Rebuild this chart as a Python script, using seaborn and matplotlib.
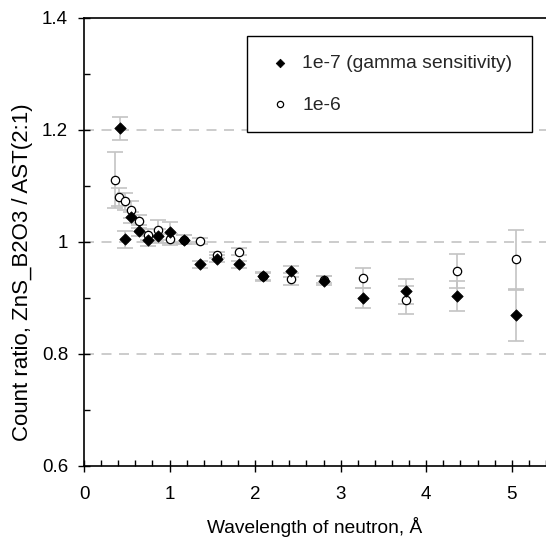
import matplotlib
matplotlib.use("Agg")
import matplotlib.pyplot as plt
import seaborn as sns
import pandas as pd
from matplotlib.ticker import MultipleLocator

# ---- data ----
wl_gamma = [0.42, 0.48, 0.55, 0.64, 0.75, 0.87, 1.00, 1.17, 1.35, 1.56, 1.81,
            2.09, 2.42, 2.80, 3.26, 3.76, 4.36, 5.05]
ratio_gamma = [1.203, 1.005, 1.044, 1.020, 1.003, 1.011, 1.017, 1.004, 0.960,
               0.970, 0.960, 0.939, 0.948, 0.931, 0.900, 0.912, 0.904, 0.869]
err_gamma = [0.020, 0.015, 0.010, 0.010, 0.010, 0.012, 0.018, 0.008, 0.006,
             0.006, 0.006, 0.008, 0.010, 0.008, 0.017, 0.022, 0.027, 0.045]

wl_1e6 = [0.36, 0.41, 0.48, 0.55, 0.64, 0.75, 0.87, 1.00, 1.17, 1.35, 1.56,
          1.81, 2.09, 2.42, 2.80, 3.26, 3.76, 4.36, 5.05]
ratio_1e6 = [1.110, 1.081, 1.073, 1.058, 1.037, 1.013, 1.021, 1.005, 1.004,
             1.002, 0.977, 0.983, 0.939, 0.934, 0.933, 0.935, 0.897, 0.948, 0.969]
err_1e6 = [0.050, 0.016, 0.015, 0.015, 0.012, 0.010, 0.018, 0.010, 0.008,
           0.006, 0.006, 0.006, 0.006, 0.010, 0.006, 0.018, 0.025, 0.031, 0.053]

label_gamma = "1e-7 (gamma sensitivity)"
label_1e6 = "1e-6"
xlabel = "Wavelength of neutron, Å"
ylabel = "Count ratio, ZnS_B2O3 / AST(2:1)"

df_g = pd.DataFrame({"wl": wl_gamma, "ratio": ratio_gamma, "err": err_gamma})
df_c = pd.DataFrame({"wl": wl_1e6, "ratio": ratio_1e6, "err": err_1e6})

sns.set_theme(style="white")
plt.rcParams["font.family"] = ["Liberation Sans", "DejaVu Sans"]

fig = plt.figure(figsize=(5.46, 5.41), dpi=100)
ax = fig.add_axes([84 / 546, 1 - 466 / 541, 1 - 84 / 546, (466 - 18) / 541])

# gridlines
for yv in [0.8, 1.0, 1.2]:
    ax.axhline(yv, color="#c4c4c4", lw=1.2, dashes=(6, 4.5), zorder=0)

# error bars
err_kw = dict(fmt="none", ecolor="#c4c4c4", elinewidth=1.2, capsize=6, capthick=1.2, zorder=1)
ax.errorbar(df_c["wl"], df_c["ratio"], yerr=df_c["err"], **err_kw)
ax.errorbar(df_g["wl"], df_g["ratio"], yerr=df_g["err"], **err_kw)

# markers
sns.scatterplot(data=df_c, x="wl", y="ratio", ax=ax, marker="o", s=36,
                facecolor="white", edgecolor="black", linewidth=0.9,
                label=label_1e6, zorder=3)
sns.scatterplot(data=df_g, x="wl", y="ratio", ax=ax, marker="D", s=34,
                color="black", edgecolor="black", linewidth=0.5,
                label=label_gamma, zorder=4)

ax.set_xlim(0, 5.4)
ax.set_ylim(0.6, 1.4)
ax.xaxis.set_major_locator(MultipleLocator(1))
ax.xaxis.set_minor_locator(MultipleLocator(0.2))
ax.yaxis.set_minor_locator(MultipleLocator(0.1))
ax.set_yticks([0.6, 0.8, 1.0, 1.2, 1.4])
ax.set_yticklabels(["0.6", "0.8", "1", "1.2", "1.4"])

ax.tick_params(axis="both", which="major", direction="inout", length=9, width=1,
               color="black", labelsize=13.5, labelcolor="black")
ax.tick_params(axis="x", which="major", pad=10)
ax.tick_params(axis="y", which="major", pad=7)
ax.tick_params(axis="both", which="minor", direction="in", length=4, width=1, color="black")
ax.tick_params(axis="x", which="both", bottom=True)
ax.tick_params(axis="y", which="both", left=True)

for side in ["left", "bottom", "top"]:
    ax.spines[side].set_visible(True)
    ax.spines[side].set_color("black")
    ax.spines[side].set_linewidth(1.2)
ax.spines["right"].set_visible(False)

ax.set_xlabel(xlabel, fontsize=13.8, color="black", labelpad=10)
ax.set_ylabel(ylabel, fontsize=16, color="black")
ax.yaxis.set_label_coords(-51 / 462, (466 - 272) / 448)

handles, labels = ax.get_legend_handles_labels()
order = [labels.index(label_gamma), labels.index(label_1e6)]
leg = ax.legend([handles[i] for i in order], [labels[i] for i in order],
                loc="upper left",
                bbox_to_anchor=(247 / 546, 1 - 36 / 541 - 0.01, (532 - 247) / 546, 0.01),
                bbox_transform=fig.transFigure, mode="expand", borderaxespad=0,
                fontsize=13.9, frameon=True, fancybox=False, framealpha=1,
                edgecolor="black", borderpad=0.95, labelspacing=1.25,
                handlelength=1.5, handletextpad=0.4, markerscale=0.75)
leg.get_frame().set_linewidth(1.0)

fig.savefig("out.png", dpi=100)
